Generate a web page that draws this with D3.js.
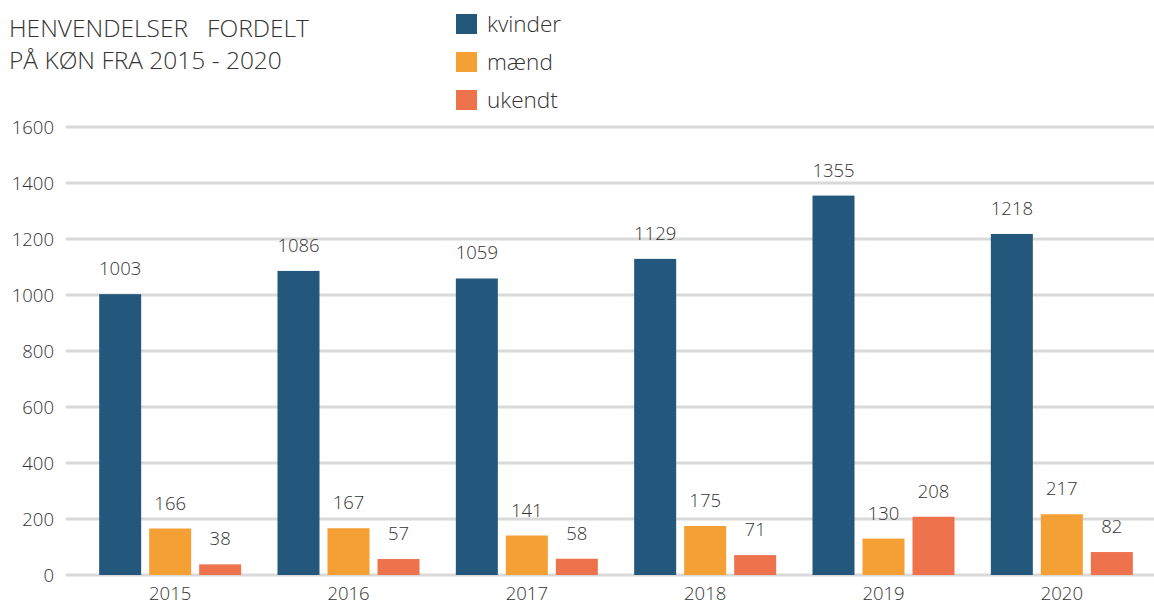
<!DOCTYPE html>
<html><head><meta charset="utf-8">
<script src="https://cdn.jsdelivr.net/npm/d3@7"></script>
<style>
body{margin:0;background:#fff;}
svg text{font-family:"Open Sans","Lato",sans-serif;font-weight:300;fill:#333;white-space:pre;}
</style></head>
<body>
<svg id="chart" width="1154" height="606"></svg>
<script>
const years = ["2015","2016","2017","2018","2019","2020"];
const seriesNames = ["kvinder","mænd","ukendt"];
const kvinder = [1003,1086,1059,1129,1355,1218];
const maend = [166,167,141,175,130,217];
const ukendt = [38,57,58,71,208,82];
const yTicks = [0,200,400,600,800,1000,1200,1400,1600];
const colors = ["#23587c","#f4a034","#ee724c"];
const titleLines = ["HENVENDELSER   FORDELT","PÅ KØN FRA 2015 - 2020"];

const seriesValues = [kvinder, maend, ukendt];
const svg = d3.select("#chart");

const x0 = d3.scaleBand().domain(years).range([81, 1151]);
const x1 = d3.scaleBand().domain(seriesNames).range([0,142]).paddingInner(0.16);
const y = d3.scaleLinear().domain([0,1600]).range([575,127]);
const color = d3.scaleOrdinal().domain(seriesNames).range(colors);

// y axis labels
const yAxis = d3.axisLeft(y).tickValues(yTicks).tickFormat(d3.format("d")).tickSize(0).tickPadding(0);
const gy = svg.append("g").attr("transform","translate(54,0)").call(yAxis);
gy.select(".domain").remove();
gy.selectAll("text").style("font-size","18.5px").attr("dy","0.35em");

// grid
svg.append("g").selectAll("line").data(yTicks).join("line")
  .attr("x1",66).attr("x2",1154)
  .attr("y1",d=>y(d)).attr("y2",d=>y(d))
  .attr("stroke","#d9d9d9").attr("stroke-width",3);

// bars
const groups = svg.append("g").selectAll("g").data(years).join("g")
  .attr("transform",d=>`translate(${x0(d)+x0.bandwidth()/2-71},0)`);

groups.each(function(yr,i){
  const g = d3.select(this);
  const recs = seriesNames.map((s,j)=>({s, v: seriesValues[j][i]}));
  g.selectAll("rect").data(recs).join("rect")
    .attr("x",d=>x1(d.s)).attr("width",x1.bandwidth())
    .attr("y",d=>y(d.v)).attr("height",d=>y(0)-y(d.v))
    .attr("fill",d=>color(d.s));
  g.selectAll("text").data(recs).join("text")
    .attr("x",d=>x1(d.s)+x1.bandwidth()/2)
    .attr("y",d=>y(d.v)-19)
    .attr("text-anchor","middle")
    .style("font-size","18.5px")
    .text(d=>d.v);
});

// x axis
const xAxis = d3.axisBottom(x0).tickSize(0).tickPadding(0);
const gx = svg.append("g").attr("transform","translate(0,594)").call(xAxis);
gx.select(".domain").remove();
gx.selectAll("text").style("font-size","18.5px").attr("dy","0.35em");

// title
svg.append("g").selectAll("text").data(titleLines).join("text")
  .attr("x",9).attr("y",(d,i)=>37+i*32)
  .attr("xml:space","preserve")
  .style("font-size","24.5px")
  .text(d=>d);

// legend
const lg = svg.append("g").selectAll("g").data(seriesNames).join("g")
  .attr("transform",(d,i)=>`translate(456,${14+i*38})`);
lg.append("rect").attr("width",21).attr("height",20).attr("fill",d=>color(d));
lg.append("text").attr("x",31).attr("y",10).attr("dy","0.35em")
  .style("font-size","22.5px").text(d=>d);
</script>
</body></html>
